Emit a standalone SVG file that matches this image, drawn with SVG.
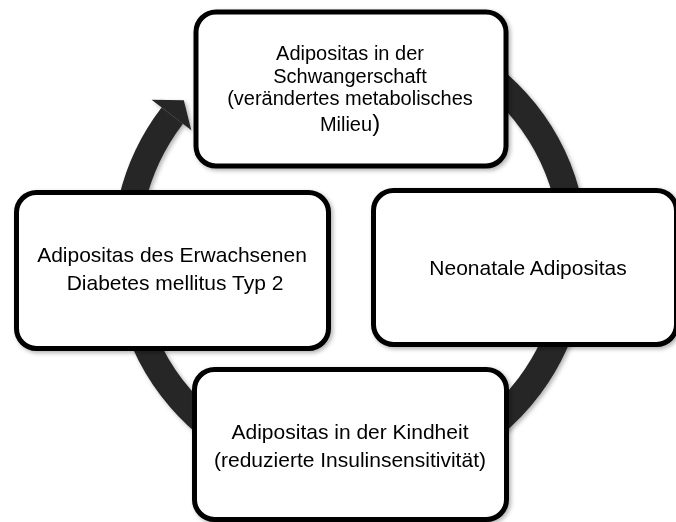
<svg xmlns="http://www.w3.org/2000/svg" width="676" height="522" viewBox="0 0 676 522">
  <defs>
    <filter id="sh" x="-10%" y="-10%" width="120%" height="120%">
      <feDropShadow dx="2" dy="2" stdDeviation="2" flood-color="#000" flood-opacity="0.3"/>
    </filter>
    <style>
      .box { fill: #ffffff; stroke: #000000; stroke-width: 5; }
      .lbl { font-family: "Liberation Sans", Arial, sans-serif; font-size: 21px; fill: #000000; text-anchor: middle; }
      .tight { font-size: 20px; }
      .ring { fill: none; stroke: #262626; stroke-width: 27; }
      .head { fill: #262626; }
    </style>
  </defs>
  <rect width="676" height="522" fill="#ffffff"/>

  <g id="connectors" filter="url(#sh)">
    <path class="ring" d="M 350 28 A 224 224 0 1 1 172.3 115.6"/>
    <polygon class="head" points="151.6,99.8 183.8,100.3 191.3,130.2"/>
  </g>

  <g id="node-top" filter="url(#sh)">
    <rect class="box" x="196" y="12" width="310" height="154" rx="20"/>
    <text class="lbl tight" x="350" y="60">Adipositas in der</text>
    <text class="lbl tight" x="350" y="82.5">Schwangerschaft</text>
    <text class="lbl tight" x="350" y="105">(verändertes metabolisches</text>
    <text class="lbl tight" x="350" y="131">Milieu<tspan font-size="24">)</tspan></text>
  </g>

  <g id="node-right" filter="url(#sh)">
    <rect class="box" x="373.5" y="190.5" width="303" height="154" rx="20"/>
    <text class="lbl" x="528" y="275">Neonatale Adipositas</text>
  </g>

  <g id="node-bottom" filter="url(#sh)">
    <rect class="box" x="194.5" y="369.5" width="312" height="150" rx="20"/>
    <text class="lbl" x="350" y="438.5">Adipositas in der Kindheit</text>
    <text class="lbl" x="350" y="466.5">(reduzierte Insulinsensitivität)</text>
  </g>

  <g id="node-left" filter="url(#sh)">
    <rect class="box" x="16.5" y="192.5" width="312" height="156" rx="20"/>
    <text class="lbl" x="172" y="261.5">Adipositas des Erwachsenen</text>
    <text class="lbl" x="175" y="290">Diabetes mellitus Typ 2</text>
  </g>
</svg>
